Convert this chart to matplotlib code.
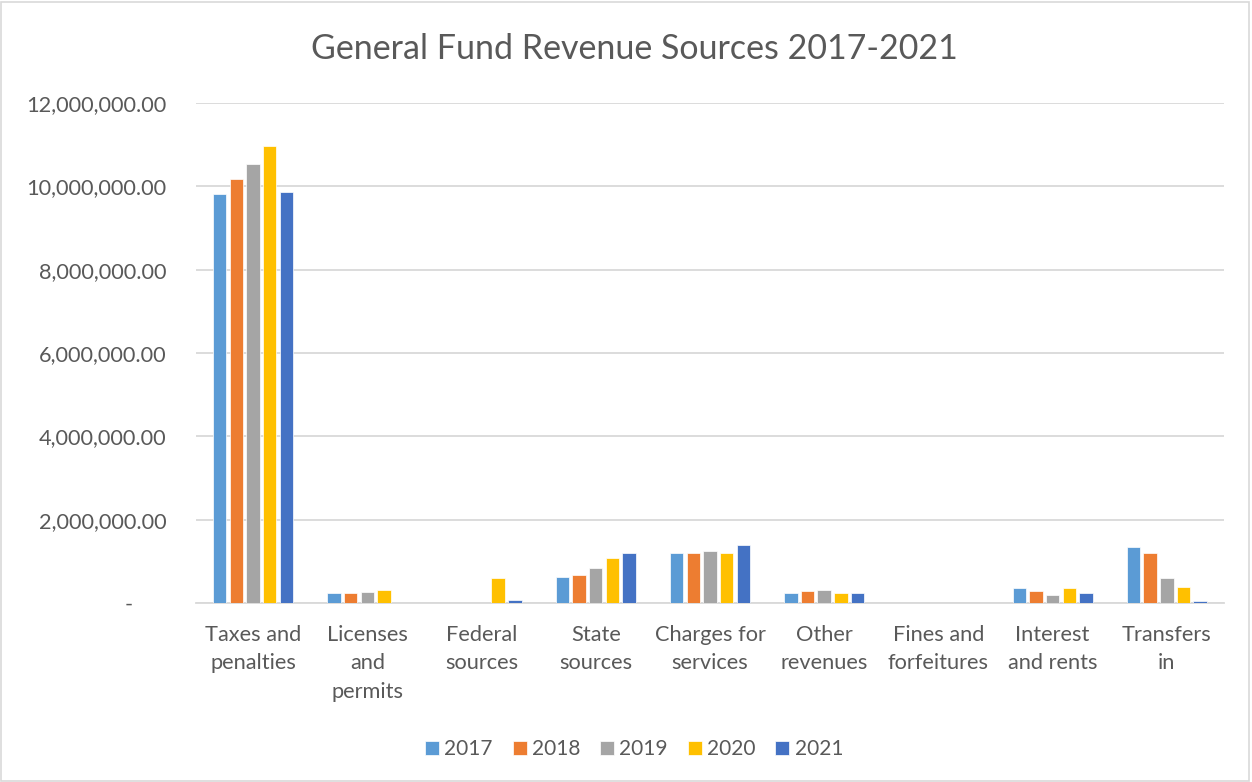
import numpy as np
import matplotlib.pyplot as plt
from matplotlib.patches import Rectangle
from matplotlib.ticker import FuncFormatter

plt.rcParams['font.family'] = ['Lato', 'DejaVu Sans']

categories = ['Taxes and\npenalties', 'Licenses\nand\npermits', 'Federal\nsources',
              'State\nsources', 'Charges for\nservices', 'Other\nrevenues',
              'Fines and\nforfeitures', 'Interest\nand rents', 'Transfers\nin']
years = ['2017', '2018', '2019', '2020', '2021']

rev_2017 = [9810000, 230000, 0, 630000, 1210000, 230000, 0, 350000, 1340000]
rev_2018 = [10180000, 230000, 0, 660000, 1190000, 290000, 0, 290000, 1210000]
rev_2019 = [10530000, 260000, 0, 850000, 1240000, 320000, 0, 200000, 600000]
rev_2020 = [10960000, 320000, 600000, 1090000, 1210000, 230000, 0, 350000, 380000]
rev_2021 = [9870000, 0, 80000, 1210000, 1400000, 230000, 0, 230000, 50000]

colors = ['#5B9BD5', '#ED7D31', '#A5A5A5', '#FFC000', '#4472C4']
series = [rev_2017, rev_2018, rev_2019, rev_2020, rev_2021]
text_col = '#595959'
grid_col = '#D9D9D9'

fig = plt.figure(figsize=(12.52, 7.82), dpi=100)
ax = fig.add_axes([0.1565, 0.2289, 0.8211, 0.6394])

x = np.arange(len(categories))
pitch = 0.146
width = 0.118
for i, (vals, col, yr) in enumerate(zip(series, colors, years)):
    ax.bar(x + (i - 2) * pitch, vals, width, color=col, edgecolor='white',
           linewidth=0.5, label=yr, zorder=3)

ax.set_xlim(-0.5, len(categories) - 0.5)
ax.set_ylim(0, 12000000)
ax.set_yticks(np.arange(0, 12000001, 2000000))


# accounting style: zero shows as a dash
def acct(v, pos):
    if v == 0:
        return '-      '
    return f'{v:,.2f}'


ax.yaxis.set_major_formatter(FuncFormatter(acct))
ax.grid(axis='y', color=grid_col, linewidth=1.3, zorder=0)
for s in ['top', 'right', 'left']:
    ax.spines[s].set_visible(False)
ax.spines['bottom'].set_color(grid_col)
ax.spines['bottom'].set_linewidth(1.3)
ax.tick_params(axis='both', length=0, colors=text_col, labelsize=15.7)
ax.tick_params(axis='y', pad=21)
ax.tick_params(axis='x', pad=15.5)
ax.set_xticks(x)
ax.set_xticklabels(categories, linespacing=1.54, va='top')

fig.text(0.5064, 0.937, 'General Fund Revenue Sources 2017-2021', ha='center',
         va='center', fontsize=24.5, color=text_col)

fig.legend(*ax.get_legend_handles_labels(), loc='center',
           bbox_to_anchor=(0.5064, 0.042), ncol=5, frameon=False, fontsize=15,
           handlelength=0.67, handleheight=0.67, handletextpad=0.25,
           columnspacing=0.96, labelcolor=text_col)

fig.patches.append(Rectangle((0.001, 0.001), 0.997, 0.997, transform=fig.transFigure,
                             fill=False, edgecolor=grid_col, linewidth=1.2))

fig.savefig('out.png', dpi=100, facecolor='white')
